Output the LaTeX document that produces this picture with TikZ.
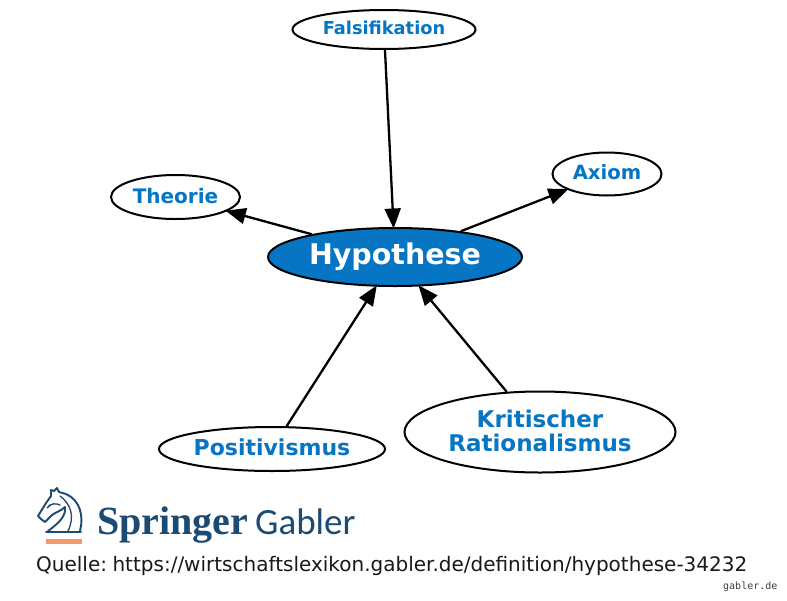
\documentclass[tikz,border=0pt]{standalone}
\usepackage{fontspec}
\setmainfont{DejaVu Sans}
\newfontfamily\logoserif{Liberation Serif}
\newfontfamily\logosans{Carlito}
\newfontfamily\smallmono{DejaVu Sans Mono}
\usetikzlibrary{shapes.geometric,arrows.meta}
\definecolor{gblue}{HTML}{0575C4}
\definecolor{logoblue}{HTML}{1B4A72}
\definecolor{logoorange}{HTML}{F4996C}
\newcommand{\lft}[1]{\raisebox{3pt}{#1}}
\tikzset{
 term/.style={ellipse,draw=black,line width=2pt,fill=white,inner sep=0pt,align=center,text=gblue,font=\bfseries\fontsize{20}{25}\selectfont},
 link/.style={draw=black,line width=2.3pt,-{Triangle[length=20pt,width=16pt]},shorten >=-1.5pt},
}
\begin{document}
\begin{tikzpicture}[x=1pt,y=-1pt]
\useasboundingbox (0,0) rectangle (787,600);
\fill[white] (0,0) rectangle (787,600);
\node[term,minimum width=183pt,minimum height=39pt,font=\bfseries\fontsize{17.8}{22}\selectfont] (fal) at (384,29.5) {\lft{Falsifikation}};
\node[term,minimum width=129pt,minimum height=44pt] (the) at (175.5,197) {\lft{Theorie}};
\node[term,minimum width=109pt,minimum height=43pt,font=\bfseries\fontsize{19.6}{24}\selectfont] (axi) at (607,174) {\lft{Axiom}};
\node[term,minimum width=254pt,minimum height=58pt,fill=gblue,text=white,font=\bfseries\fontsize{28.5}{34}\selectfont] (hyp) at (395,257) {Hypothese};
\node[term,minimum width=226pt,minimum height=44pt,font=\bfseries\fontsize{22}{27}\selectfont] (pos) at (272,449) {\lft{Positivismus}};
\node[term,minimum width=271pt,minimum height=81pt,font=\bfseries\fontsize{23}{24.5}\selectfont] (kri) at (540,432) {\raisebox{2pt}{Kritischer}\\\raisebox{2pt}{Rationalismus}};
\draw[link] (fal) -- (hyp);
\draw[link] (hyp) -- (the);
\draw[link] (hyp) -- (axi);
\draw[link] (pos) -- (hyp);
\draw[link] (kri) -- (hyp);
% logo
\begin{scope}[logoblue,line width=1.9pt,line join=round,line cap=round]
\draw (80,531) .. controls (84,516) and (80,500) .. (66,494) -- (59,492) -- (57,488) -- (54,491) -- (51,490) -- (51,496) -- (46,503) -- (38,516) -- (41,519) -- (45,522) -- (52,515) .. controls (56,512) and (61,511) .. (65,507);
\draw (65,507) .. controls (66,516) and (60,522) .. (47,532);
\draw (46,532) -- (81,532);
\draw[line width=1.3pt] (60,496) .. controls (71,504) and (75,517) .. (68,531);
\draw[line width=1.3pt] (47,508) .. controls (51,503) and (56,503) .. (60,505);
\fill (49.5,505.5) circle (1.1pt);
\end{scope}
\fill[logoorange] (46,539) rectangle (82,543.5);
\node[anchor=base west,inner sep=0pt,text=logoblue,font=\logoserif\bfseries\fontsize{40}{40}\selectfont] (spr) at (97,534) {Springer};
\node[anchor=base west,inner sep=0pt,text=logoblue,font=\logosans\fontsize{37}{37}\selectfont] (gab) at (255,534) {Gabler};
\node[anchor=base west,inner sep=0pt,text=black!90,font=\fontsize{20}{24}\selectfont] (src) at (36,571) {Quelle:\hspace{-3pt} https://wirtschaftslexikon.gabler.de/definition/hypothese-34232};
\node[anchor=base west,inner sep=0pt,text=black!75,font=\smallmono\fontsize{10}{12}\selectfont] (gde) at (723,589) {gabler.de};
\end{tikzpicture}
\end{document}
